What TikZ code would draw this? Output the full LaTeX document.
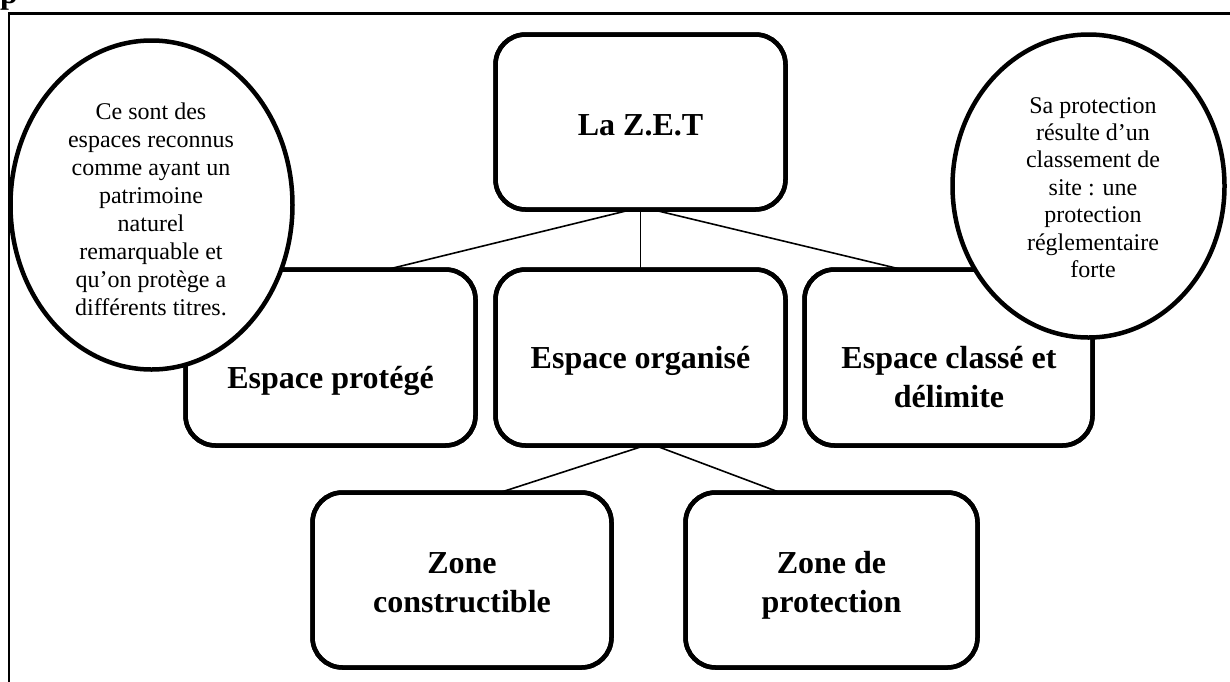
\documentclass[tikz,border=0pt]{standalone}
\usepackage{fontspec}
\setmainfont{Liberation Serif}
\usetikzlibrary{shapes.geometric,calc}
\newcommand{\zlines}[1]{\begin{tabular}[t]{@{}c@{}}#1\end{tabular}}
\tikzset{
  zbox/.style={draw, line width=4.5pt, rounded corners=30pt, fill=white, inner sep=0pt, outer sep=0pt},
  zell/.style={draw, ellipse, line width=4.5pt, fill=white, inner sep=0pt, outer sep=0pt},
  conn/.style={draw, line width=1.6pt},
  blabel/.style={font=\fontsize{32}{39}\selectfont\bfseries, inner sep=0pt, anchor=base},
  slabel/.style={font=\fontsize{24}{28}\selectfont, inner sep=0pt, anchor=base},
  slabelb/.style={font=\fontsize{24}{27.4}\selectfont, inner sep=0pt, anchor=base}
}
\begin{document}
\begin{tikzpicture}[x=1pt,y=-1pt]
\useasboundingbox (0,0) rectangle (1230,681);
\clip (0,0) rectangle (1230,681);
% page residue and frame
\node[font=\fontsize{32}{39}\selectfont\bfseries, inner sep=0pt, anchor=base west] (pp) at (0,3) {p};
\draw[line width=2.2pt] (8.7,13.5) rectangle (1260,720);
% boxes
\node[zbox, minimum width=290pt, minimum height=175pt] (zet) at (640.5,122) {};
\node[zbox, minimum width=290pt, minimum height=176pt] (ep) at (330.5,357.5) {};
\node[zbox, minimum width=290pt, minimum height=176pt] (eo) at (640.5,357.5) {};
\node[zbox, minimum width=288pt, minimum height=176pt] (ec) at (948.5,357.5) {};
\node[zbox, minimum width=299pt, minimum height=175pt] (zc) at (462,580) {};
\node[zbox, minimum width=292pt, minimum height=175pt] (zp) at (831.5,580) {};
% connectors
\draw[conn] ($(zet.south)+(-8.5,0)$) -- ($(ep.north)+(56.5,0)$);
\draw[conn] (zet.south) -- (eo.north);
\draw[conn] ($(zet.south)+(11.5,0)$) -- ($(ec.north)+(-46.5,0)$);
\draw[conn] ($(eo.south)+(4.5,0)$) -- ($(zc.north)+(38,0)$);
\draw[conn] ($(eo.south)+(14.5,0)$) -- ($(zp.north)+(-51.5,0)$);
% redraw box outlines over connector ends
\foreach \n in {zet,ep,eo,ec,zc,zp}{
  \draw[line width=4.5pt, rounded corners=30pt] (\n.south west) rectangle (\n.north east);
}
% ellipses
\node[zell, minimum width=282pt, minimum height=329pt] (le) at (151.5,205) {};
\node[zell, minimum width=272pt, minimum height=303pt] (re) at (1088.5,186) {};
% labels
\node[blabel] (zett) at (640.5,135) {La Z.E.T};
\node[blabel] (ept) at (330.5,388) {Espace protégé};
\node[blabel] (eot) at (640.5,368) {Espace organisé};
\node[blabel] (ect) at (949,368) {\zlines{Espace classé et\\délimite}};
\node[blabel] (zct) at (462,573) {\zlines{Zone\\constructible}};
\node[blabel] (zpt) at (831.5,573) {\zlines{Zone de\\protection}};
\node[slabel] (let) at (151,119) {\zlines{Ce sont des\\espaces reconnus\\comme ayant un\\patrimoine\\naturel\\remarquable et\\qu’on protège a\\différents titres.}};
\node[slabelb] (ret) at (1093,113) {\zlines{Sa protection\\résulte d’un\\classement de\\site : une\\protection\\réglementaire\\forte}};
\end{tikzpicture}
\end{document}
